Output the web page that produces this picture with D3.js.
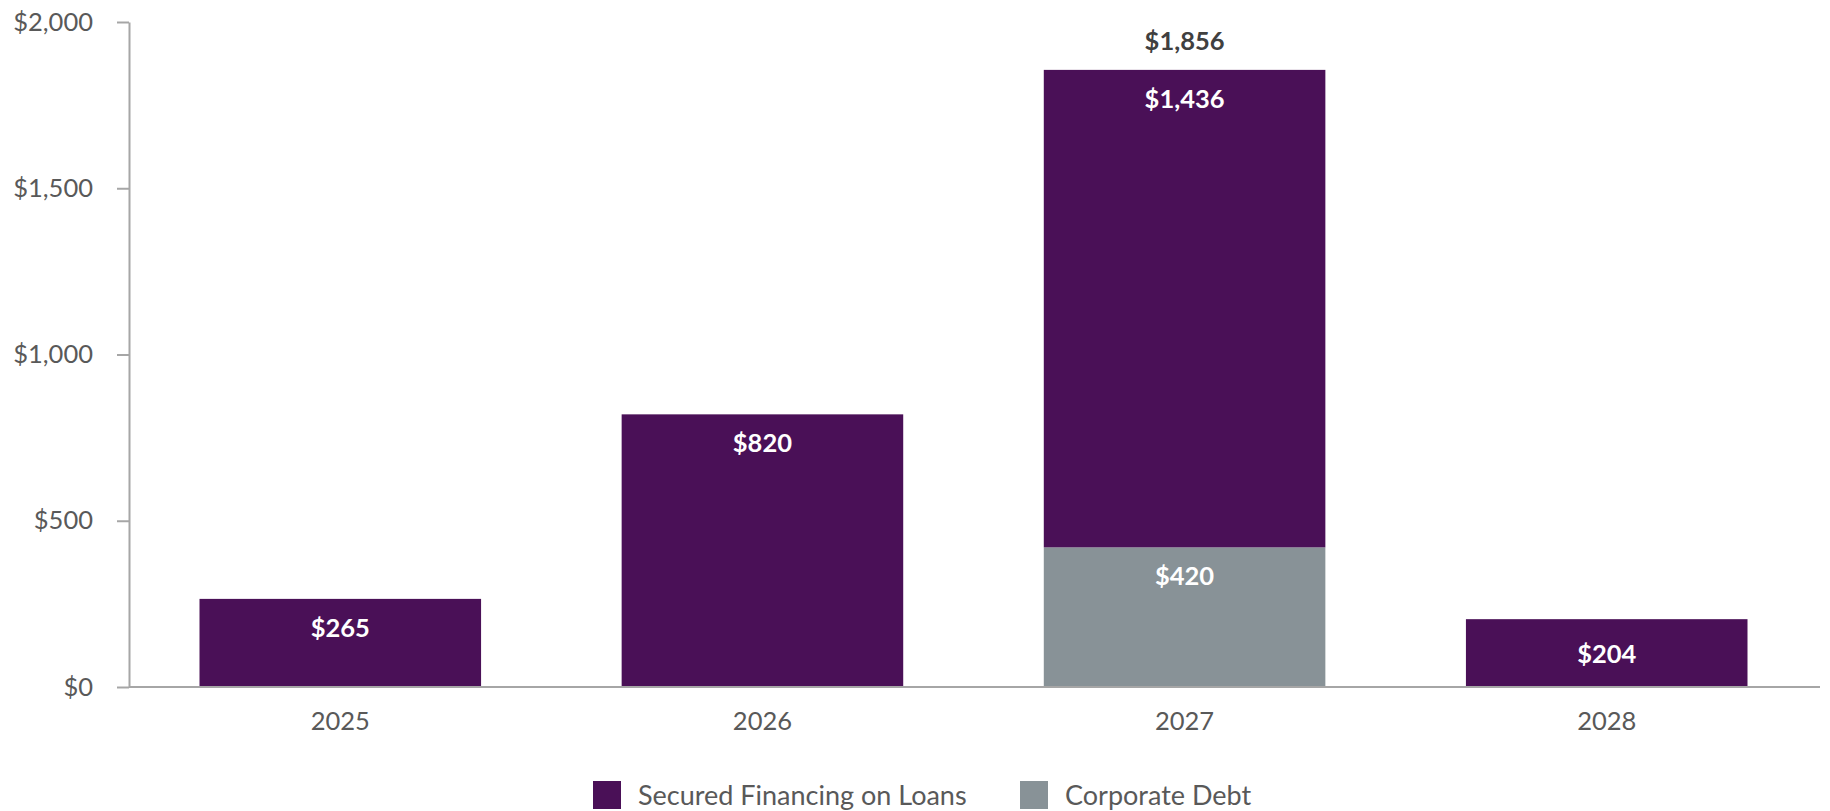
<!DOCTYPE html>
<html>
<head>
<meta charset="utf-8">
<script src="https://cdn.jsdelivr.net/npm/d3@7"></script>
<style>
  body { margin: 0; background: #fff; }
  svg text { font-family: Lato, "Open Sans", sans-serif; }
</style>
</head>
<body>
<div id="chart"></div>
<script>
// data ($ millions)
const years = ['2025', '2026', '2027', '2028'];
const corporateDebt = [0, 0, 420, 0];
const securedFinancing = [265, 820, 1436, 204];
const yTicks = [0, 500, 1000, 1500, 2000];

const seriesNames = ['Corporate Debt', 'Secured Financing on Loans'];
const legendOrder = ['Secured Financing on Loans', 'Corporate Debt'];
const colors = {'Secured Financing on Loans': '#4a1057', 'Corporate Debt': '#889297'};

const width = 1830, height = 811;
const margin = {top: 22, right: 12, bottom: 124, left: 129};

const svg = d3.select('#chart').append('svg')
    .attr('width', width)
    .attr('height', height);

// build rows for the stack
let rows = years.map((y, i) => ({
    year: y,
    'Corporate Debt': corporateDebt[i],
    'Secured Financing on Loans': securedFinancing[i]
}));

let stacked = d3.stack().keys(seriesNames)(rows);

let x = d3.scaleBand()
    .domain(years)
    .range([margin.left, width - margin.right])
    .paddingInner(0.333)
    .paddingOuter(0.167);

let y = d3.scaleLinear()
    .domain([0, 2000])
    .range([height - margin.bottom, margin.top]);

// y axis
let yAxis = svg.append('g')
    .attr('transform', `translate(${margin.left},0)`)
    .call(d3.axisLeft(y)
        .tickValues(yTicks)
        .tickSize(12)
        .tickSizeOuter(0)
        .tickPadding(24)
        .tickFormat(d => '$' + d3.format(',')(d)));
yAxis.selectAll('path, line').attr('stroke', '#a6a6a6').attr('stroke-width', 2);
yAxis.selectAll('text').attr('fill', '#595959').style('font-size', '25.5px');

// bars
svg.append('g').selectAll('g')
    .data(stacked)
    .enter().append('g')
    .attr('fill', d => colors[d.key])
    .selectAll('rect')
    .data(d => d)
    .enter().append('rect')
    .attr('x', d => x(d.data.year))
    .attr('width', x.bandwidth())
    .attr('y', d => y(d[1]))
    .attr('height', d => y(d[0]) - y(d[1]));

// x axis (baseline)
let xAxis = svg.append('g')
    .attr('transform', `translate(0,${y(0)})`)
    .call(d3.axisBottom(x).tickSize(0).tickPadding(25));
xAxis.select('.domain').attr('stroke', '#a6a6a6').attr('stroke-width', 2)
    .attr('d', `M${margin.left},0H${width - 10}`);
xAxis.selectAll('text').attr('fill', '#595959').style('font-size', '25.5px');

// segment labels
stacked.forEach(s => {
    svg.append('g').selectAll('text')
        .data(s.filter(d => d[1] - d[0] > 0))
        .enter().append('text')
        .attr('x', d => x(d.data.year) + x.bandwidth() / 2)
        .attr('y', d => {
            let top = y(d[1]), bottom = y(d[0]);
            return (bottom - top) > 80 ? top + 38 : (top + bottom) / 2 + 10;
        })
        .attr('text-anchor', 'middle')
        .attr('fill', '#ffffff')
        .style('font-size', '25.5px')
        .style('font-weight', 'bold')
        .text(d => '$' + d3.format(',')(d[1] - d[0]));
});

// totals, only where the bar is stacked
svg.append('g').selectAll('text')
    .data(rows.filter(r => r['Corporate Debt'] > 0 && r['Secured Financing on Loans'] > 0))
    .enter().append('text')
    .attr('x', d => x(d.year) + x.bandwidth() / 2)
    .attr('y', d => y(d['Corporate Debt'] + d['Secured Financing on Loans']) - 20)
    .attr('text-anchor', 'middle')
    .attr('fill', '#404040')
    .style('font-size', '25.5px')
    .style('font-weight', 'bold')
    .text(d => '$' + d3.format(',')(d['Corporate Debt'] + d['Secured Financing on Loans']));

// legend
let legend = svg.append('g').attr('transform', 'translate(593,781)');
let legendX = [0, 427];
legendOrder.forEach((name, i) => {
    let g = legend.append('g').attr('transform', `translate(${legendX[i]},0)`);
    g.append('rect').attr('width', 28).attr('height', 28).attr('fill', colors[name]);
    g.append('text')
        .attr('x', 45)
        .attr('y', 24)
        .attr('fill', '#595959')
        .style('font-size', '27px')
        .text(name);
});
</script>
</body>
</html>
